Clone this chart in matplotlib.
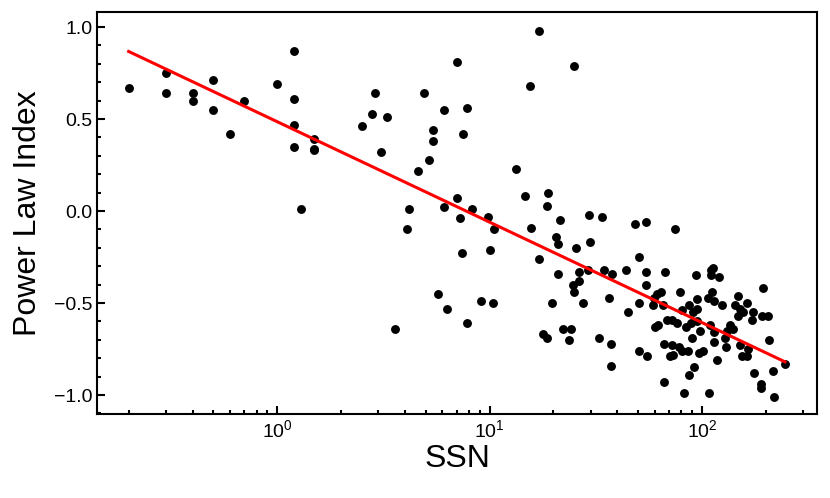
import numpy as np
import matplotlib.pyplot as plt
from matplotlib.ticker import MultipleLocator, LogLocator, NullFormatter

plt.rcParams['font.family'] = ['Liberation Sans', 'DejaVu Sans']
plt.rcParams['mathtext.default'] = 'regular'

# sunspot number vs power law index
ssn = [0.2, 0.3, 0.3, 0.4, 0.4, 0.5, 0.5, 0.6, 0.7, 1.0, 1.2, 1.2, 1.2, 1.2, 1.3, 1.5, 1.5, 1.5,
       2.5, 2.8, 2.9, 3.1, 3.3, 3.6, 4.1, 4.2, 4.6, 4.9, 5.2, 5.4, 5.4, 5.7, 6.1, 6.1, 6.3,
       7.0, 7.0, 7.3, 7.4, 7.5, 7.8, 7.8, 8.3, 9.1, 9.8, 10.0, 10.4, 10.5, 13.3, 14.7, 15.5,
       15.7, 17.1, 17.1, 17.9, 18.6, 18.6, 18.9, 19.7, 20.6, 21, 21, 21.5, 22.2, 23.7, 24.2,
       24.7, 25, 25, 25.5, 26.4, 26.4, 27.5, 29.1, 29.4, 29.7, 32.8, 33.8, 34.6, 36.5, 37.3,
       37.3, 37.7, 43.9, 44.9, 48.4, 50.6, 50.6, 50.6, 54.5, 54.5, 54.5, 55.1,
       58.8, 59.4, 60.1, 61.4, 62.1, 64.1, 65.5, 66.2, 66.2, 67, 68.4, 70.7, 72.2, 72.2, 73.1,
       74.6, 76.3, 78, 78.8, 80.5, 80.5, 82.3, 84.1, 85.9, 86.9, 86.9, 88.8, 89.7, 90.7, 91.7,
       93.7, 94.7, 94.7, 94.7, 96.8, 97.9, 101, 107, 108, 109, 110, 110, 111, 113, 114, 114,
       114, 118, 120, 124, 128, 130, 131, 135, 140, 143, 148, 148, 151, 151, 154, 156, 163,
       163, 165, 172, 174, 176, 190, 190, 192, 194, 205, 207, 216, 218, 246]
index = [0.67, 0.75, 0.64, 0.64, 0.60, 0.71, 0.55, 0.42, 0.60, 0.69, 0.87, 0.61, 0.47, 0.35, 0.01, 0.39, 0.34, 0.33,
         0.46, 0.53, 0.64, 0.32, 0.51, -0.64, -0.10, 0.01, 0.22, 0.64, 0.28, 0.44, 0.38, -0.45, 0.55, 0.02, -0.53,
         0.81, 0.07, -0.04, -0.23, 0.42, 0.56, -0.61, 0.01, -0.49, -0.03, -0.21, -0.50, -0.10, 0.23, 0.08, 0.68,
         -0.09, 0.98, -0.26, -0.67, 0.03, -0.69, 0.10, -0.50, -0.14, -0.18, -0.34, -0.05, -0.64, -0.70, -0.64,
         -0.40, 0.79, -0.44, -0.20, -0.33, -0.38, -0.50, -0.32, -0.02, -0.17, -0.69, -0.03, -0.32, -0.47, -0.72,
         -0.84, -0.34, -0.32, -0.55, -0.07, -0.25, -0.50, -0.76, -0.06, -0.33, -0.40, -0.79,
         -0.51, -0.47, -0.63, -0.45, -0.62, -0.44, -0.51, -0.72, -0.93, -0.33, -0.59, -0.79, -0.59, -0.73, -0.78,
         -0.10, -0.61, -0.74, -0.44, -0.54, -0.76, -0.99, -0.63, -0.76, -0.51, -0.89, -0.61, -0.69, -0.55, -0.85,
         -0.35, -0.48, -0.53, -0.60, -0.77, -0.65, -0.76, -0.47, -0.99, -0.62, -0.32, -0.35, -0.44, -0.31, -0.49, -0.66,
         -0.71, -0.81, -0.36, -0.51, -0.69, -0.74, -0.65, -0.62, -0.64, -0.51, -0.46, -0.57, -0.53, -0.73, -0.79, -0.55, -0.50,
         -0.79, -0.75, -0.59, -0.55, -0.88, -0.94, -0.96, -0.57, -0.42, -0.57, -0.70, -0.87, -1.01, -0.83]

# linear fit in log10(SSN)
fit_slope = -0.546
fit_intercept = 0.486

fig = plt.figure(figsize=(8.3, 4.98), dpi=100)
ax = fig.add_axes([0.1169, 0.1687, 0.8674, 0.8072])

ax.plot(ssn, index, 'o', color='black', markersize=6.4, markeredgewidth=0)
xf = np.array([min(ssn), max(ssn)])
ax.plot(xf, fit_intercept + fit_slope * np.log10(xf), color='red', lw=2.2)

ax.set_xscale('log')
ax.set_xlim(0.142, 348)
ax.set_ylim(-1.103, 1.082)
ax.xaxis.set_major_locator(LogLocator(base=10, numticks=10))
ax.xaxis.set_minor_locator(LogLocator(base=10, subs=np.arange(2, 10), numticks=20))
ax.xaxis.set_minor_formatter(NullFormatter())
ax.yaxis.set_major_locator(MultipleLocator(0.5))
ax.yaxis.set_minor_locator(MultipleLocator(0.1))
ax.yaxis.set_major_formatter(lambda v, p: f'{v:.1f}'.replace('-', '\u2212'))

for s in ax.spines.values():
    s.set_linewidth(1.5)
ax.tick_params(which='both', direction='in', top=False, right=False, labelsize=14, width=1.5)
ax.tick_params(which='major', length=5.5)
ax.tick_params(which='minor', length=3)

ax.set_xlabel('SSN', fontsize=23, labelpad=2)
ax.set_ylabel('Power Law Index', fontsize=23, labelpad=8)

fig.savefig('out.png', dpi=100)
